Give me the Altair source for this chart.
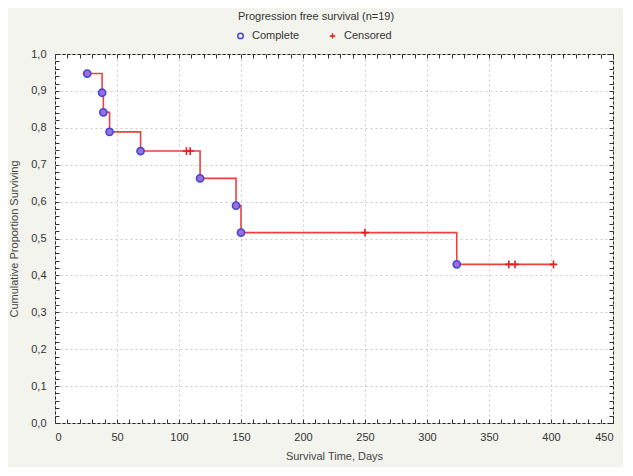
import altair as alt
import pandas as pd

# Kaplan-Meier estimate
event_days = [26, 38, 39, 44, 69, 117, 146, 150, 324]
event_surv = [0.947, 0.895, 0.842, 0.789, 0.737, 0.663, 0.589, 0.516, 0.430]
cens_days = [106, 109, 250, 366, 371, 402]
cens_surv = [0.737, 0.737, 0.516, 0.430, 0.430, 0.430]

x_ticks = list(range(0, 451, 10))
y_ticks = [round(i * 0.02, 2) for i in range(0, 51)]

FONT = "Liberation Sans"
LINE_RED = "#ee4040"
BLUE = "#4545d8"
PLUS = "M-1,0L1,0M0,-1L0,1"

line_df = pd.DataFrame({
    "t": event_days + [cens_days[-1]],
    "s": event_surv + [cens_surv[-1]],
})
pts_df = pd.DataFrame({
    "t": event_days + cens_days,
    "s": event_surv + cens_surv,
    "type": ["Complete"] * len(event_days) + ["Censored"] * len(cens_days),
})

xscale = alt.Scale(domain=[0, 450], nice=False, zero=False)
yscale = alt.Scale(domain=[0, 1], nice=False)

x_major = "datum.value % 50 === 0"
y_major = "abs(datum.value * 10 - round(datum.value * 10)) < 0.001"

x_axis_main = alt.Axis(
    values=x_ticks, labelExpr=f"{x_major} ? datum.value : ''",
    orient="bottom", offset=-4, tickSize=4, tickColor="#333", domain=False,
    grid=True, gridDash=[2, 3],
    gridColor={"condition": {"test": x_major, "value": "#cccccc"}, "value": "transparent"},
    labelPadding=8, labelFont=FONT, labelFontSize=11, labelColor="#333",
    title="Survival Time, Days", titleFont=FONT, titleFontSize=11,
    titleFontWeight="normal", titleColor="#444", titlePadding=8,
)
y_axis_main = alt.Axis(
    values=y_ticks,
    labelExpr=f"{y_major} ? replace(format(datum.value, '.1f'), '.', ',') : ''",
    orient="left", offset=-4, tickSize=4, tickColor="#333", domain=False,
    grid=True, gridDash=[2, 3],
    gridColor={"condition": {"test": y_major, "value": "#cccccc"}, "value": "transparent"},
    labelPadding=9, labelFont=FONT, labelFontSize=11, labelColor="#333",
    title="Cumulative Proportion Surviving", titleFont=FONT, titleFontSize=11,
    titleFontWeight="normal", titleColor="#444", titlePadding=11,
)
x_axis_top = alt.Axis(values=x_ticks, orient="top", offset=-4, tickSize=4,
                      tickColor="#333", domain=False, labels=False, grid=False, title=None)
y_axis_right = alt.Axis(values=y_ticks, orient="right", offset=-4, tickSize=4,
                        tickColor="#333", domain=False, labels=False, grid=False, title=None)

legend = alt.Legend(title=None, orient="none", legendX=180, legendY=-24,
                    direction="horizontal", labelFont=FONT, labelFontSize=11,
                    labelColor="#333", symbolStrokeWidth=1.5, symbolSize=30,
                    symbolFillColor="transparent",
                    columnPadding=26, padding=0, labelOffset=6)

line = alt.Chart(line_df).mark_line(
    interpolate="step-after", color=LINE_RED, strokeWidth=1.6
).encode(
    x=alt.X("t:Q", scale=xscale, axis=x_axis_main),
    y=alt.Y("s:Q", scale=yscale, axis=y_axis_main),
)

points = alt.Chart(pts_df).mark_point(filled=False, strokeWidth=1.6, opacity=1).encode(
    x=alt.X("t:Q", scale=xscale, axis=x_axis_top),
    y=alt.Y("s:Q", scale=yscale, axis=y_axis_right),
    shape=alt.Shape("type:N", scale=alt.Scale(domain=["Complete", "Censored"], range=["circle", PLUS]),
                    legend=legend),
    color=alt.Color("type:N", scale=alt.Scale(domain=["Complete", "Censored"], range=[BLUE, "#e02020"]),
                    legend=legend),
    fill=alt.condition(alt.datum.type == "Complete", alt.value("#9a70d8"), alt.value("transparent")),
    size=alt.condition(alt.datum.type == "Complete", alt.value(52), alt.value(60)),
)

chart = alt.layer(line, points).resolve_axis(x="independent", y="independent").properties(
    width=558, height=369,
    autosize=alt.AutoSizeParams(type="none"),
    padding={"left": 47, "top": 46, "right": 10, "bottom": 44},
    background="#f4f4ee",
    title=alt.TitleParams("Progression free survival (n=19)", font=FONT, fontSize=11,
                          fontWeight="normal", color="#333", offset=8, anchor="middle", dx=-18),
).configure_view(fill="white", stroke="#222", strokeWidth=1)

chart.save("out.html", embed_options={"renderer": "svg", "actions": False})
